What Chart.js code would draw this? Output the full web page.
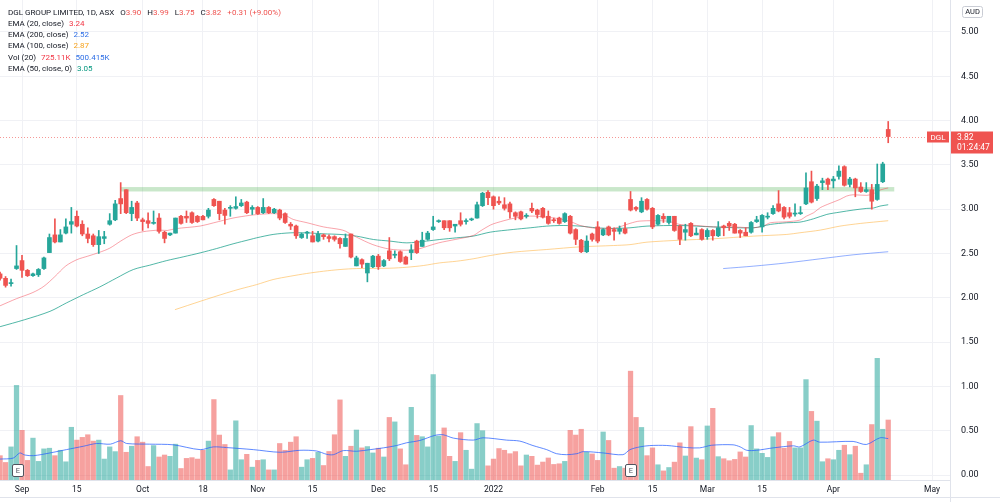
<!DOCTYPE html>
<html>
<head>
<meta charset="utf-8">
<script src="https://cdn.jsdelivr.net/npm/chart.js@4.4.0/dist/chart.umd.min.js"></script>
<style>
  html, body { margin: 0; padding: 0; background: #fff; }
  #chart { display: block; }
</style>
</head>
<body>
<canvas id="chart" width="1000" height="502"></canvas>
<script>
// daily bars, Aug 26 2021 .. Apr 19 2022; first entry sits at bar index -1 (cut by the left edge)
const firstBar = -1;
const opens = [2.27,
  2.22,2.16,2.33,2.42,2.31,2.25,2.26,2.33,2.51,2.71,2.63,2.73,2.83,2.92,2.83,2.72,2.70,2.60,2.67,2.83,
  2.88,3.12,3.22,2.95,3.07,2.88,2.87,2.84,2.90,2.74,2.71,2.73,2.92,2.92,2.96,2.92,2.92,2.92,3.11,3.09,
  2.99,3.01,3.01,3.04,3.08,3.00,3.02,2.96,3.02,2.96,2.99,2.95,2.83,2.81,2.68,2.73,2.70,2.64,2.71,2.69,
  2.69,2.67,2.58,2.72,2.36,2.43,2.28,2.35,2.47,2.36,2.53,2.48,2.52,2.46,2.51,2.64,2.58,2.66,2.77,2.86,
  2.87,2.87,2.81,2.87,2.86,2.88,2.90,3.04,3.19,3.14,3.09,3.05,3.06,2.96,2.97,2.92,3.01,2.99,3.01,2.92,
  2.88,2.90,2.86,2.92,2.77,2.65,2.52,2.72,2.80,2.71,2.80,2.77,2.75,2.78,3.11,3.02,2.97,3.11,3.01,2.83,
  2.92,2.85,2.92,2.81,2.74,2.84,2.71,2.77,2.69,2.76,2.70,2.81,2.84,2.83,2.76,2.74,2.74,2.86,2.80,2.91,
  2.95,3.06,3.02,2.96,2.945,2.95,3.06,3.31,3.12,3.30,3.34,3.32,3.37,3.48,3.28,3.34,3.25,3.20,3.22,3.11,
  3.31,3.90];
const highs = [2.29,
  2.24,2.21,2.59,2.48,2.32,2.28,2.33,2.46,2.72,2.89,2.77,2.89,3.02,2.98,2.87,2.79,2.72,2.76,2.75,2.95,
  3.10,3.30,3.22,3.09,3.09,2.90,2.96,2.98,2.95,2.75,2.73,2.90,2.93,2.98,2.97,2.93,2.93,3.01,3.12,3.09,
  3.01,3.04,3.14,3.11,3.09,3.04,3.03,3.12,3.03,3.01,3.00,2.96,2.85,2.82,2.73,2.75,2.75,2.75,2.72,2.71,
  2.70,2.68,2.72,2.72,2.47,2.44,2.39,2.48,2.49,2.43,2.68,2.53,2.53,2.47,2.60,2.65,2.74,2.75,2.92,2.88,
  2.87,2.87,2.83,2.96,2.89,2.90,3.08,3.19,3.21,3.15,3.14,3.13,3.08,2.97,2.98,2.95,3.07,3.00,3.02,2.98,
  2.90,2.91,2.96,2.93,2.78,2.66,2.70,2.73,2.86,2.78,2.81,2.79,2.81,2.85,3.20,3.03,3.13,3.12,3.02,2.94,
  2.95,2.92,2.92,2.82,2.83,2.85,2.79,2.78,2.78,2.77,2.86,2.82,2.86,2.84,2.77,2.79,2.86,2.92,2.94,2.96,
  3.04,3.21,3.03,3.02,3.06,3.03,3.41,3.43,3.28,3.35,3.35,3.37,3.49,3.49,3.36,3.35,3.30,3.30,3.28,3.51,
  3.53,3.99];
const lows = [2.20,
  2.12,2.13,2.32,2.23,2.24,2.24,2.24,2.32,2.51,2.62,2.63,2.72,2.73,2.80,2.70,2.62,2.58,2.50,2.61,2.82,
  2.87,2.95,2.95,2.87,2.87,2.76,2.79,2.83,2.73,2.62,2.70,2.73,2.83,2.85,2.84,2.85,2.88,2.90,3.03,2.88,
  2.83,2.92,3.00,3.03,2.95,2.94,2.94,2.95,2.95,2.95,2.88,2.84,2.77,2.67,2.67,2.67,2.63,2.63,2.66,2.63,
  2.64,2.56,2.58,2.45,2.36,2.34,2.18,2.34,2.32,2.35,2.42,2.45,2.40,2.38,2.43,2.50,2.58,2.65,2.76,2.85,
  2.77,2.75,2.74,2.81,2.83,2.87,2.90,3.03,3.05,3.00,3.05,2.99,2.90,2.88,2.88,2.90,2.96,2.90,2.90,2.83,
  2.85,2.83,2.85,2.72,2.60,2.51,2.51,2.64,2.62,2.70,2.70,2.65,2.72,2.72,2.98,2.98,2.96,2.99,2.78,2.82,
  2.85,2.83,2.75,2.60,2.65,2.69,2.71,2.65,2.66,2.65,2.69,2.70,2.76,2.73,2.68,2.70,2.73,2.85,2.74,2.89,
  2.94,2.97,2.89,2.90,2.92,2.94,3.05,3.07,3.10,3.22,3.22,3.24,3.34,3.26,3.25,3.14,3.19,3.19,3.00,3.10,
  3.30,3.75];
const closes = [2.22,
  2.14,2.17,2.36,2.31,2.25,2.27,2.32,2.45,2.68,2.63,2.71,2.80,2.86,2.81,2.72,2.67,2.60,2.69,2.69,2.87,
  3.06,3.06,2.96,3.02,2.90,2.86,2.84,2.85,2.75,2.67,2.73,2.90,2.84,2.90,2.85,2.86,2.88,2.99,3.04,2.95,
  2.93,3.02,3.03,3.07,2.96,3.02,2.95,3.02,2.96,3.00,2.90,2.85,2.81,2.70,2.72,2.74,2.63,2.72,2.69,2.67,
  2.66,2.61,2.67,2.46,2.45,2.38,2.39,2.47,2.35,2.42,2.44,2.49,2.41,2.38,2.54,2.51,2.65,2.73,2.80,2.87,
  2.79,2.79,2.83,2.83,2.87,2.89,3.05,3.18,3.13,3.04,3.07,3.01,2.97,2.92,2.89,2.93,2.98,2.94,2.91,2.84,
  2.87,2.84,2.95,2.73,2.66,2.52,2.64,2.66,2.64,2.77,2.71,2.75,2.78,2.73,2.99,3.00,3.09,3.00,2.80,2.93,
  2.89,2.92,2.76,2.66,2.77,2.70,2.73,2.66,2.76,2.70,2.79,2.79,2.81,2.73,2.73,2.70,2.85,2.88,2.93,2.92,
  3.01,2.98,2.91,2.92,2.955,2.96,3.24,3.08,3.26,3.32,3.28,3.34,3.43,3.27,3.34,3.24,3.20,3.22,3.09,3.28,
  3.51,3.82];
// volume, thousands of shares
const volumes = [294,
  212,400,1143,600,237,506,225,376,384,294,359,220,637,482,515,547,470,482,253,400,
  343,1021,335,408,523,457,163,416,278,302,286,433,139,261,270,253,359,470,972,543,
  429,122,715,245,310,155,237,245,122,122,441,359,457,523,155,245,261,335,175,345,
  547,968,286,408,604,388,404,327,384,278,756,702,376,184,878,539,523,400,1274,531,
  629,286,225,572,359,131,682,596,171,253,380,359,318,343,171,302,286,180,217,266,
  188,196,225,600,543,613,335,315,237,580,478,143,163,143,1315,756,635,294,388,184,
  110,151,216,449,290,645,265,245,653,866,282,257,233,249,339,278,658,376,322,273,
  523,572,384,466,388,388,1213,829,711,221,257,245,359,420,306,408,82,184,670,1470,
  613,725];

// indicator lines: [bar index, value]
const ema20 = [[-1,1.91],[2,1.99],[5,2.06],[7,2.13],[9,2.24],[11,2.36],[13,2.43],[15,2.47],[17,2.51],[19,2.56],
  [21,2.64],[23,2.71],[25,2.745],[28,2.764],[29.5,2.76],[31,2.78],[35.5,2.81],[38,2.847],[41.5,2.90],[44.5,2.93],
  [46,2.94],[49,2.95],[51,2.93],[52.5,2.884],[55,2.847],[58,2.80],[61,2.771],[62,2.752],[64,2.685],[67,2.60],
  [70,2.55],[73,2.537],[75,2.545],[77,2.583],[79,2.62],[82,2.658],[85.3,2.703],[86.5,2.75],[88.4,2.82],[89.6,2.847],
  [92.6,2.896],[95.7,2.922],[98.7,2.91],[101.7,2.884],[103.6,2.847],[104.8,2.816],[107.8,2.783],[110.9,2.783],[113.9,2.84],[115.7,2.866],
  [120.6,2.866],[123,2.828],[126,2.816],[129.1,2.80],[133.4,2.798],[136.4,2.79],[138.2,2.809],[139.5,2.847],[142.5,2.858],[144.9,2.877],
  [146.1,2.922],[147.4,2.96],[148.6,3.017],[150.4,3.066],[152.2,3.11],[153.4,3.148],[154.6,3.163],[157.1,3.156],[158.3,3.175],[159.5,3.216],[161,3.24]];
const ema50 = [[-1,1.674],[3.5,1.753],[8.1,1.847],[11.1,1.942],[14.2,2.036],[17.2,2.123],[20.3,2.225],[23.3,2.319],[26.3,2.368],[29.4,2.42],
  [32.4,2.462],[35.5,2.507],[38.5,2.556],[41.5,2.609],[44.6,2.658],[45.8,2.677],[48.8,2.715],[51.9,2.733],[54.9,2.733],[58,2.722],
  [61,2.715],[64,2.696],[67.1,2.658],[70.1,2.64],[73.2,2.62],[76.8,2.64],[79.2,2.658],[82.3,2.677],[85.3,2.696],[88.4,2.741],
  [92.6,2.771],[95.7,2.79],[98.7,2.809],[101.7,2.816],[104.8,2.809],[107.8,2.79],[110.9,2.783],[113.9,2.79],[117,2.809],[123,2.816],
  [129.1,2.80],[136.4,2.79],[139.5,2.828],[142.5,2.847],[144.9,2.854],[147.4,2.892],[149.8,2.941],[152.2,2.967],[154.6,2.99],[157.1,3.009],
  [158.3,3.013],[159.5,3.035],[161,3.05]];
const ema100 = [[30.9,1.866],[35.5,1.96],[40.3,2.055],[42.8,2.10],[45.8,2.149],[48.8,2.206],[51.9,2.243],[54.9,2.274],[58,2.30],[61,2.319],
  [64,2.33],[70.1,2.334],[73.2,2.345],[76.2,2.364],[79.2,2.394],[82.3,2.413],[85.3,2.44],[88.4,2.477],[92.6,2.515],[98.7,2.545],
  [104.8,2.575],[110.9,2.59],[113.9,2.60],[117,2.628],[123,2.65],[129.1,2.666],[136.4,2.696],[142.5,2.715],[144.9,2.734],[148.6,2.764],
  [152.2,2.809],[155.9,2.839],[158.3,2.854],[161,2.87]];
const ema200 = [[130.9,2.33],[136.4,2.357],[142.5,2.394],[148.6,2.44],[154.6,2.485],[161,2.52]];
const volMa = [[-1,253],[1.4,265],[2.6,327],[3.5,302],[5.1,294],[8.1,327],[11.1,367],[14.2,408],[16.6,441],[19.1,433],
  [21,474],[22.1,441],[26.3,433],[30.6,425],[35.5,367],[37.9,400],[40.3,392],[45.2,367],[50.1,335],[53.7,359],
  [56.7,351],[58.6,310],[59.8,306],[61.6,355],[64,347],[66.5,367],[68.9,388],[71.3,416],[73.1,449],[75.6,478],
  [78.3,539],[79.8,547],[81.7,506],[85.3,482],[87.1,510],[91.4,482],[93.8,470],[96.2,416],[98.7,367],[100.5,318],
  [102.3,306],[104.2,318],[105.4,343],[109,327],[112.6,306],[113.9,367],[115.7,400],[117.5,416],[120.6,417],[124.2,392],
  [126.6,388],[128.8,420],[132.7,425],[134,400],[135.2,359],[137,359],[140,388],[143.7,413],[144.9,400],[147.3,482],
  [148.5,457],[154.6,466],[157,429],[159.5,510],[161,500]];

// time axis labels (bar index of first day shown)
const timeTickIdx = [3, 13, 25, 36, 46, 56, 68, 78, 89, 108, 118, 128, 138, 151, 169];
const timeTickText = ['Sep', '15', 'Oct', '18', 'Nov', '15', 'Dec', '15', '2022', 'Feb', '15', 'Mar', '15', 'Apr', 'May'];
const priceTicks = [0, 0.5, 1, 1.5, 2, 2.5, 3, 3.5, 4, 4.5, 5];

// support zone and earnings markers
const zone = { from: 21, to: 162.1, low: 3.20, high: 3.25 };
const earningsIdx = [2.2, 114];
const lastPrice = 3.82;

const UP = '#26a69a', DOWN = '#ef5350';
const TXT = '#131722';
const FONT = 'Roboto, "Liberation Sans", sans-serif';

const bars = closes.map((_, i) => i);
const up = bars.map(i => closes[i] >= opens[i]);
const pts = arr => arr.map(p => ({ x: p[0], y: p[1] }));

const overlay = {
  id: 'overlay',
  beforeDatasetsDraw(chart) {
    const { ctx, scales: { x, y } } = chart;
    ctx.save();
    ctx.fillStyle = 'rgba(76,175,80,0.3)';
    const x0 = x.getPixelForValue(zone.from), x1 = x.getPixelForValue(zone.to);
    const y0 = y.getPixelForValue(zone.high), y1 = y.getPixelForValue(zone.low);
    ctx.fillRect(x0, y0, x1 - x0, y1 - y0);
    ctx.restore();
  },
  afterDraw(chart) {
    const { ctx, chartArea: a, scales: { x, y } } = chart;
    ctx.save();

    // right scale separator down to the bottom, bottom rule
    ctx.strokeStyle = '#e0e3eb';
    ctx.lineWidth = 1;
    ctx.beginPath();
    ctx.moveTo(a.right + 0.5, 0); ctx.lineTo(a.right + 0.5, 502);
    ctx.moveTo(0, 497.5); ctx.lineTo(1000, 497.5);
    ctx.stroke();

    // price scale labels
    ctx.font = '9px ' + FONT;
    ctx.fillStyle = TXT;
    ctx.textAlign = 'left';
    ctx.textBaseline = 'middle';
    priceTicks.forEach(v => ctx.fillText(v.toFixed(2), a.right + 11, y.getPixelForValue(v)));

    // last price dotted line + labels
    const py = Math.round(y.getPixelForValue(lastPrice)) + 0.5;
    ctx.strokeStyle = 'rgba(239,83,80,0.6)';
    ctx.setLineDash([1, 2]);
    ctx.beginPath(); ctx.moveTo(0, py); ctx.lineTo(926, py); ctx.stroke();
    ctx.setLineDash([]);
    ctx.fillStyle = DOWN;
    ctx.fillRect(927, py - 6, 22, 11);
    ctx.fillRect(a.right + 1, py - 6, 42, 22);
    ctx.fillStyle = '#fff';
    ctx.font = '8px ' + FONT;
    ctx.textAlign = 'center';
    ctx.fillText('DGL', 938, py);
    ctx.textAlign = 'left';
    ctx.font = '8.5px ' + FONT;
    ctx.fillText(lastPrice.toFixed(2), a.right + 7, py);
    ctx.fillText('01:24:47', a.right + 7, py + 10);

    // currency badge
    ctx.strokeStyle = '#c9ccd4';
    ctx.beginPath();
    ctx.roundRect(962.5, 6.5, 20, 11, 2);
    ctx.stroke();
    ctx.fillStyle = TXT;
    ctx.textAlign = 'center';
    ctx.font = '7.5px ' + FONT;
    ctx.fillText('AUD', 972.5, 12.5);

    // earnings markers
    earningsIdx.forEach(v => {
      const ex = Math.round(x.getPixelForValue(v));
      ctx.fillStyle = '#fff';
      ctx.strokeStyle = '#50535e';
      ctx.beginPath();
      ctx.roundRect(ex - 5.5, 464.5, 11, 12, 1.5);
      ctx.fill(); ctx.stroke();
      ctx.fillStyle = '#50535e';
      ctx.font = '7.5px ' + FONT;
      ctx.fillText('E', ex, 471);
    });

    // legend block
    ctx.textAlign = 'left';
    ctx.font = '8px ' + FONT;
    const runs = (yy, parts) => {
      let xx = 8;
      parts.forEach(([t, c, gap]) => {
        ctx.fillStyle = c;
        ctx.fillText(t, xx, yy);
        xx += ctx.measureText(t).width + (gap || 0);
      });
    };
    runs(12.5, [['DGL GROUP LIMITED, 1D, ASX', TXT, 6], ['O', TXT], ['3.90', DOWN, 6], ['H', TXT], ['3.99', DOWN, 6],
      ['L', TXT], ['3.75', DOWN, 6], ['C', TXT], ['3.82', DOWN, 6], ['+0.31 (+9.00%)', DOWN]]);
    runs(24, [['EMA (20, close)', TXT, 5], ['3.24', '#f23645']]);
    runs(35, [['EMA (200, close)', TXT, 5], ['2.52', '#2f6fe6']]);
    runs(46, [['EMA (100, close)', TXT, 5], ['2.87', '#f7a21b']]);
    runs(57.5, [['Vol (20)', TXT, 5], ['725.11K', '#f23645', 5], ['500.415K', '#2f6fe6']]);
    runs(69, [['EMA (50, close, 0)', TXT, 5], ['3.05', '#089981']]);

    ctx.restore();
  }
};

new Chart(document.getElementById('chart'), {
  type: 'bar',
  data: {
    datasets: [
      {
        label: 'bodies',
        data: bars.map(i => ({ x: i + firstBar, y: [opens[i], closes[i]] })),
        backgroundColor: bars.map(i => up[i] ? UP : DOWN),
        barThickness: 4,
        minBarLength: 1,
        grouped: false,
        yAxisID: 'y',
        order: 1
      },
      {
        label: 'wicks',
        data: bars.map(i => ({ x: i + firstBar, y: [lows[i], highs[i]] })),
        backgroundColor: bars.map(i => up[i] ? UP : DOWN),
        barThickness: 1,
        grouped: false,
        yAxisID: 'y',
        order: 2
      },
      { type: 'line', label: 'EMA 20', data: pts(ema20), borderColor: 'rgba(242,54,69,0.45)', yAxisID: 'y', order: 5 },
      { type: 'line', label: 'EMA 50', data: pts(ema50), borderColor: 'rgba(8,153,129,0.7)', yAxisID: 'y', order: 5 },
      { type: 'line', label: 'EMA 100', data: pts(ema100), borderColor: 'rgba(255,183,77,0.6)', yAxisID: 'y', order: 5 },
      { type: 'line', label: 'EMA 200', data: pts(ema200), borderColor: 'rgba(41,98,255,0.5)', yAxisID: 'y', order: 5 },
      { type: 'line', label: 'Vol MA', data: pts(volMa), borderColor: 'rgba(41,98,255,0.75)', yAxisID: 'v', order: 8 },
      {
        label: 'volume',
        data: bars.map(i => ({ x: i + firstBar, y: volumes[i] })),
        backgroundColor: bars.map(i => up[i] ? 'rgba(38,166,154,0.55)' : 'rgba(239,83,80,0.55)'),
        barThickness: 4.6,
        grouped: false,
        yAxisID: 'v',
        order: 10
      }
    ]
  },
  options: {
    responsive: false,
    animation: false,
    devicePixelRatio: 1,
    layout: { padding: 0 },
    elements: {
      line: { borderWidth: 1, tension: 0.3 },
      point: { radius: 0 },
      bar: { borderWidth: 0 }
    },
    plugins: { legend: { display: false }, tooltip: { enabled: false } },
    scales: {
      x: {
        type: 'linear',
        offset: false,
        min: -1.014,
        max: 172.27,
        afterBuildTicks: s => { s.ticks = timeTickIdx.map(v => ({ value: v })); },
        afterFit: s => { s.height = 22; },
        grid: { color: '#f0f1f5', drawTicks: false, offset: false },
        border: { color: '#e0e3eb' },
        ticks: {
          autoSkip: false,
          maxRotation: 0,
          padding: 5,
          color: TXT,
          font: { family: FONT, size: 8.5 },
          callback: v => timeTickText[timeTickIdx.indexOf(v)]
        }
      },
      y: {
        type: 'linear',
        position: 'right',
        min: -0.0564,
        max: 5.361,
        afterBuildTicks: s => { s.ticks = priceTicks.map(v => ({ value: v })); },
        afterFit: s => { s.width = 50; },
        grid: { color: '#f0f1f5', drawTicks: false },
        border: { color: '#e0e3eb' },
        ticks: { display: false }
      },
      v: {
        type: 'linear',
        display: false,
        min: 0,
        max: 5800
      }
    }
  },
  plugins: [overlay]
});
</script>
</body>
</html>
